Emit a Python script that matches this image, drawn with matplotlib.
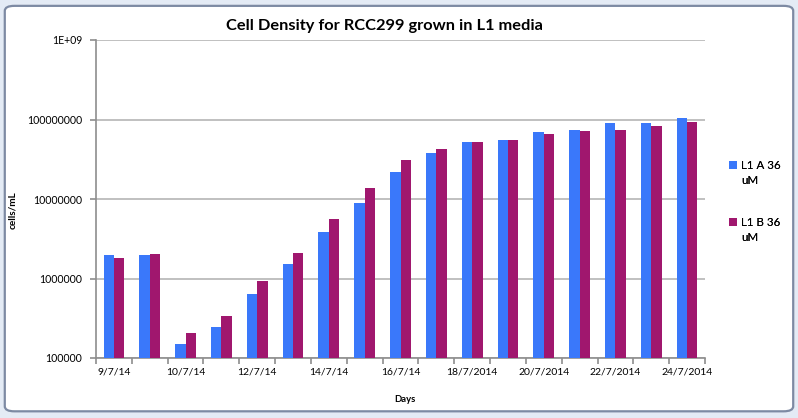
import matplotlib
matplotlib.use("Agg")
import matplotlib.pyplot as plt
import numpy as np
from matplotlib.patches import FancyBboxPatch, Patch
from matplotlib.ticker import FixedLocator, NullFormatter

plt.rcParams["font.family"] = ["Lato", "DejaVu Sans"]

# 17 sampling points, every other one labelled on the axis
day_labels = ["9/7/14", "", "10/7/14", "", "12/7/14", "", "14/7/14", "", "16/7/14",
              "", "18/7/2014", "", "20/7/2014", "", "22/7/2014", "", "24/7/2014"]
l1_a = [1.98e6, 1.98e6, 1.5e5, 2.45e5, 6.4e5, 1.52e6, 3.85e6, 8.9e6, 2.19e7,
        3.8e7, 5.2e7, 5.5e7, 6.96e7, 7.4e7, 9.0e7, 9.0e7, 1.05e8]
l1_b = [1.81e6, 2.03e6, 2.06e5, 3.37e5, 9.3e5, 2.09e6, 5.6e6, 1.37e7, 3.1e7,
        4.27e7, 5.2e7, 5.5e7, 6.57e7, 7.2e7, 7.4e7, 8.3e7, 9.3e7]
series_names = ["L1 A 36\nuM", "L1 B 36\nuM"]
y_ticks = [1e5, 1e6, 1e7, 1e8, 1e9]
y_tick_labels = ["100000", "1000000", "10000000", "100000000", "1E+09"]

BLUE = "#3a78fa"
MAGENTA = "#a0176e"
GRID = "#c0c0c0"
AXIS = "#8e8e8e"

fig = plt.figure(figsize=(7.98, 4.18), dpi=100, facecolor="#e4ebf5")

# spreadsheet frame behind the chart
frame = FancyBboxPatch((0.006, 0.016), 0.988, 0.97, transform=fig.transFigure,
                       boxstyle="round,pad=0,rounding_size=0.012",
                       facecolor="white", edgecolor="#7d8aa3", linewidth=1.6, zorder=-5)
fig.patches.append(frame)

ax = fig.add_axes([96 / 798, 1 - 358 / 418, (705 - 96) / 798, (358 - 40) / 418])
ax.set_zorder(2)
ax.set_facecolor("none")

x = np.arange(len(day_labels))
w = 0.29
ax.bar(x - w / 2, l1_a, width=w, color=BLUE, label=series_names[0], zorder=3)
ax.bar(x + w / 2, l1_b, width=w, color=MAGENTA, label=series_names[1], zorder=3)

ax.set_yscale("log")
ax.set_ylim(1e5, 1e9)
ax.yaxis.set_major_locator(FixedLocator(y_ticks))
ax.set_yticklabels(y_tick_labels)
ax.yaxis.set_minor_locator(FixedLocator([]))
ax.grid(axis="y", color=GRID, linewidth=1.4, zorder=1)
ax.set_axisbelow(True)

ax.set_xlim(-0.5, len(day_labels) - 0.5)
ax.set_xticks(x)
ax.set_xticklabels(day_labels)
ax.xaxis.set_minor_locator(FixedLocator(np.arange(len(day_labels) + 1) - 0.5))
ax.xaxis.set_minor_formatter(NullFormatter())
ax.tick_params(axis="x", which="major", length=0, labelsize=7.5, pad=7)
ax.tick_params(axis="x", which="minor", length=4, color=AXIS, width=1.2)
ax.tick_params(axis="y", which="major", length=4, color=AXIS, width=1.2, labelsize=7.6, pad=6)

for side in ["top", "right"]:
    ax.spines[side].set_visible(False)
ax.spines["left"].set_color(AXIS)
ax.spines["bottom"].set_color(AXIS)
ax.spines["left"].set_linewidth(1.2)
ax.spines["bottom"].set_linewidth(1.2)

ax.set_xlabel("Days", fontsize=6.8, fontweight="bold")
ax.xaxis.set_label_coords(0.507, -0.115)
ax.set_ylabel("cells/mL", fontsize=7.2, fontweight="bold")
ax.yaxis.set_label_coords(-0.13, 0.465)

fig.suptitle("Cell Density for RCC299 grown in L1 media", x=0.482, y=0.955,
             fontsize=11.8, fontweight="bold")

# one small legend per series so the swatch sits on the first text line, like Excel
legend_tops = [152, 209]
for name, color, top in zip(series_names, [BLUE, MAGENTA], legend_tops):
    lines = name.split("\n")
    handles = [Patch(facecolor=color)] + [Patch(visible=False)] * (len(lines) - 1)
    leg = fig.legend(handles, lines, loc="upper left", bbox_to_anchor=(721 / 798, 1 - top / 418),
                     frameon=False, fontsize=8.3, handlelength=0.7, handleheight=0.7,
                     handletextpad=0.35, labelspacing=0.3, borderpad=0.2)
    fig.add_artist(leg)

fig.savefig("out.png", dpi=100, facecolor=fig.get_facecolor())
